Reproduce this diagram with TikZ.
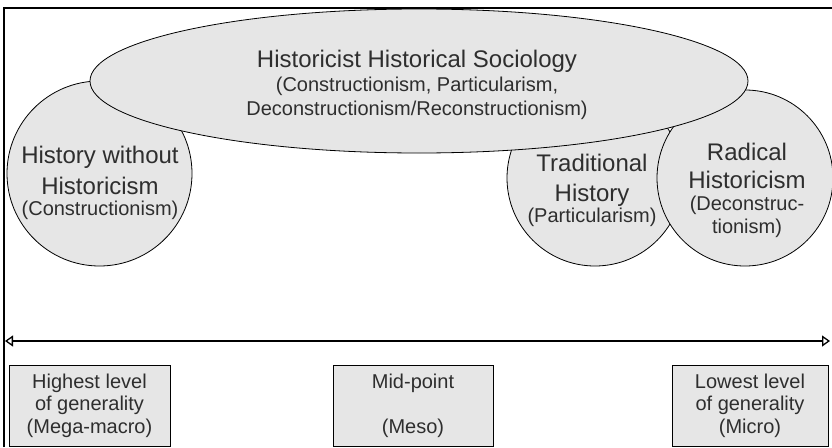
\documentclass[tikz,border=0pt]{standalone}
\usepackage{fontspec}
\setmainfont{Liberation Sans}
\usetikzlibrary{shapes.geometric,arrows.meta}
\definecolor{shade}{HTML}{E6E6E6}
\definecolor{ink}{HTML}{2E2E2E}
\newcommand{\subsz}{\fontsize{20}{22}\selectfont}
\begin{document}
\begin{tikzpicture}[x=1pt,y=-1pt,
  blob/.style={draw=black,fill=shade,line width=0.8pt,inner sep=0pt},
  txt/.style={text=ink,align=center,inner sep=0pt},
  level/.style={draw=black,fill=shade,line width=0.8pt,inner sep=0pt,minimum height=81pt,
    text=ink,align=center,font=\fontsize{20}{22.5}\selectfont}]
\useasboundingbox (0,0) rectangle (832,447);
\draw[line width=1.3pt] (4,447) -- (4,8) -- (832,8);
% circles, then the ellipse on top
\node[blob,circle,minimum size=185pt] (hwh) at (99.5,173.5) {};
\node[blob,circle,minimum size=176pt] (trad) at (595,178) {};
\node[blob,circle,minimum size=176pt] (rad) at (745,178) {};
\node[blob,ellipse,minimum width=658pt,minimum height=144pt] (hhs) at (419,81) {};
\node[txt,font=\fontsize{20}{24}\selectfont] (hhs-t) at (417,84.4)
  {\fontsize{24}{24}\selectfont Historicist Historical Sociology\\\subsz(Constructionism, Particularism,\\\subsz Deconstructionism/Reconstructionism)};
\node[txt,font=\fontsize{24}{20.4}\selectfont] (hwh-t) at (100,183)
  {History without\\[7.6pt]Historicism\\\subsz(Constructionism)};
\node[txt,font=\fontsize{24}{21.4}\selectfont] (trad-t) at (592,190.5)
  {Traditional\\[8.6pt]History\\\subsz(Particularism)};
\node[txt,font=\fontsize{24}{22}\selectfont] (rad-t) at (747,190)
  {Radical\\[6pt]Historicism\\\subsz(Deconstruc-\\[1pt]\subsz tionism)};
% scale of generality
\coordinate (lo) at (5,341);
\coordinate (hi) at (830,341);
\draw[{Triangle[open,length=8pt,width=11pt]}-{Triangle[open,length=8pt,width=11pt]},line width=1.3pt] (lo) -- (hi);
\node[level,minimum width=161pt] (macro) at (89.5,405.5) {Highest level\\of generality\\(Mega-macro)};
\node[level,minimum width=160pt] (meso) at (413,405.5) {Mid-point\\[22.5pt](Meso)};
\node[level,minimum width=156pt] (micro) at (750,405.5) {Lowest level\\of generality\\(Micro)};
\end{tikzpicture}
\end{document}
